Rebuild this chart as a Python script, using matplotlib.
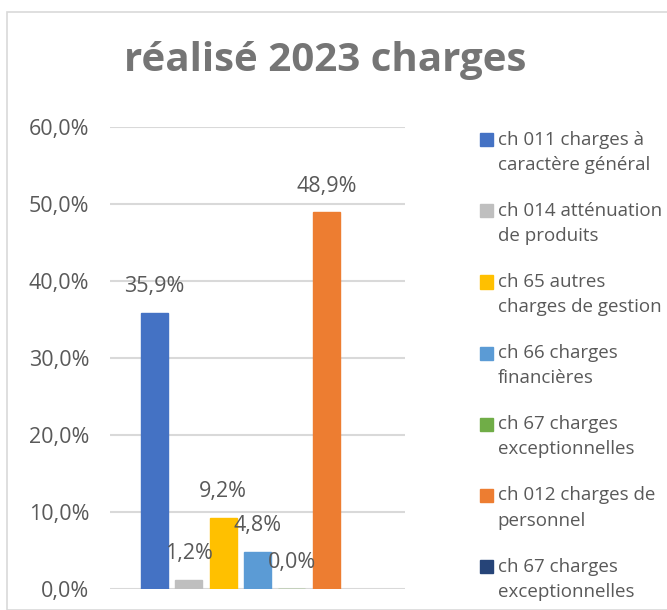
import numpy as np
import matplotlib.pyplot as plt
from matplotlib.patches import Rectangle
from matplotlib.legend_handler import HandlerPatch

plt.rcParams['font.family'] = ['Open Sans', 'DejaVu Sans']

# donnees
series = ["ch 011 charges à\ncaractère général",
          "ch 014 atténuation\nde produits",
          "ch 65 autres\ncharges de gestion",
          "ch 66 charges\nfinancières",
          "ch 67 charges\nexceptionnelles",
          "ch 012 charges de\npersonnel",
          "ch 67 charges\nexceptionnelles"]
values = [35.9, 1.2, 9.2, 4.8, 0.0, 48.9, np.nan]
colors = ["#4472C4", "#BFBFBF", "#FFC000", "#5B9BD5", "#70AD47", "#ED7D31", "#264478"]
yticks = [0, 10, 20, 30, 40, 50, 60]

txt = "#595959"

fig = plt.figure(figsize=(6.67, 6.10), dpi=100)
fig.patches.append(Rectangle((7/667, 0), 1, 1 - 12/610, transform=fig.transFigure,
                             fill=False, edgecolor="#D9D9D9", lw=1.2))

ax = fig.add_axes([110/667, 21/610, 295/667, 462/610])
x = np.arange(len(values))
bars = ax.bar(x, values, width=0.79, color=colors, edgecolor=colors, linewidth=1, zorder=3)
for b, v in zip(bars, values):
    if np.isnan(v):
        continue
    ax.annotate(("%.1f%%" % v).replace(".", ","), (b.get_x() + b.get_width()/2, v),
                xytext=(0, 19), textcoords="offset points", ha="center", va="center",
                fontsize=15.5, color=txt)

ax.set_xlim(3 - 4.29, 3 + 4.29)
ax.set_ylim(0, 60)
ax.set_yticks(yticks)
ax.set_yticklabels([("%.1f%%" % t).replace(".", ",") for t in yticks], fontsize=15.5, color=txt)
ax.set_xticks([])
ax.tick_params(axis="y", length=0, pad=15)
ax.grid(axis="y", color="#D9D9D9", lw=1.5, zorder=0)
for s in ax.spines.values():
    s.set_visible(False)

fig.text(325/667, 1 - 61/610, "réalisé 2023 charges", ha="center", va="center",
         fontsize=29, fontweight="bold", color="#757575")


# carre de legende aligne sur la premiere ligne
def carre(legend, orig_handle, xdescent, ydescent, width, height, fontsize):
    return Rectangle((-xdescent, -ydescent + 0.7*fontsize), width, height)


leg = fig.legend(bars, series, loc="upper left", bbox_to_anchor=(463/667, 1 - 114/610),
                 frameon=False, fontsize=13.5, handlelength=0.7, handleheight=0.7,
                 handletextpad=0.25, labelspacing=1.5,
                 handler_map={Rectangle: HandlerPatch(patch_func=carre)})
for t in leg.get_texts():
    t.set_color(txt)
    t.set_linespacing(1.5)

fig.savefig("out.png", dpi=100)
